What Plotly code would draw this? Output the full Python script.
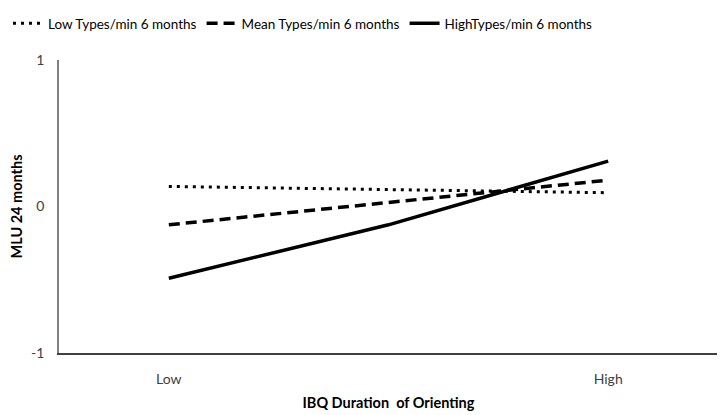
import plotly.graph_objects as go

categories = ["Low", "", "High"]
x_idx = [0, 1, 2]
low_types = [0.137, 0.116, 0.094]
mean_types = [-0.125, 0.03, 0.18]
high_types = [-0.49, -0.125, 0.31]
series_names = ["Low Types/min 6 months", "Mean Types/min 6 months", "HighTypes/min 6 months"]
y_ticks = [-1, 0, 1]

FONT = "Lato"
fig = go.Figure()
fig.add_trace(go.Scatter(x=x_idx, y=low_types, mode="lines", name=series_names[0],
                         line=dict(color="black", width=3, dash="3px,5px")))
fig.add_trace(go.Scatter(x=x_idx, y=mean_types, mode="lines", name=series_names[1],
                         line=dict(color="black", width=3.5, dash="11px,6px")))
fig.add_trace(go.Scatter(x=x_idx, y=high_types, mode="lines", name=series_names[2],
                         line=dict(color="black", width=3.5)))

fig.update_layout(
    width=717, height=407,
    margin=dict(l=51, r=7, t=52, b=62),
    paper_bgcolor="white", plot_bgcolor="white",
    font=dict(family=FONT, size=13, color="#404040"),
    showlegend=True,
    legend=dict(orientation="h", x=0, y=1, xref="container", yref="container",
                xanchor="left", yanchor="top",
                font=dict(family=FONT, size=13.5, color="black"),
                itemwidth=30, tracegroupgap=0, bgcolor="rgba(0,0,0,0)"),
    xaxis=dict(range=[-0.5, 2.5], tickvals=[0, 2], ticktext=[categories[0], categories[2]],
               showgrid=False, zeroline=False, showline=True, linecolor="#404040", linewidth=2,
               ticks="", ticklabelstandoff=12, automargin=False,
               tickfont=dict(family=FONT, size=14, color="#404040"),
               title=dict(text="<b>IBQ Duration  of Orienting</b>", standoff=12,
                          font=dict(family=FONT, size=14.5, color="black"))),
    yaxis=dict(range=[-1, 1], tickvals=y_ticks, ticktext=[str(v) for v in y_ticks],
               showgrid=False, zeroline=False, showline=True, linecolor="#808080", linewidth=1.5,
               ticks="", ticklabelstandoff=10, automargin=False,
               tickfont=dict(family=FONT, size=14, color="#404040"),
               title=dict(text="<b>MLU 24 months</b>", standoff=9,
                          font=dict(family=FONT, size=14.5, color="black"))),
)
fig.write_html("out.html")
